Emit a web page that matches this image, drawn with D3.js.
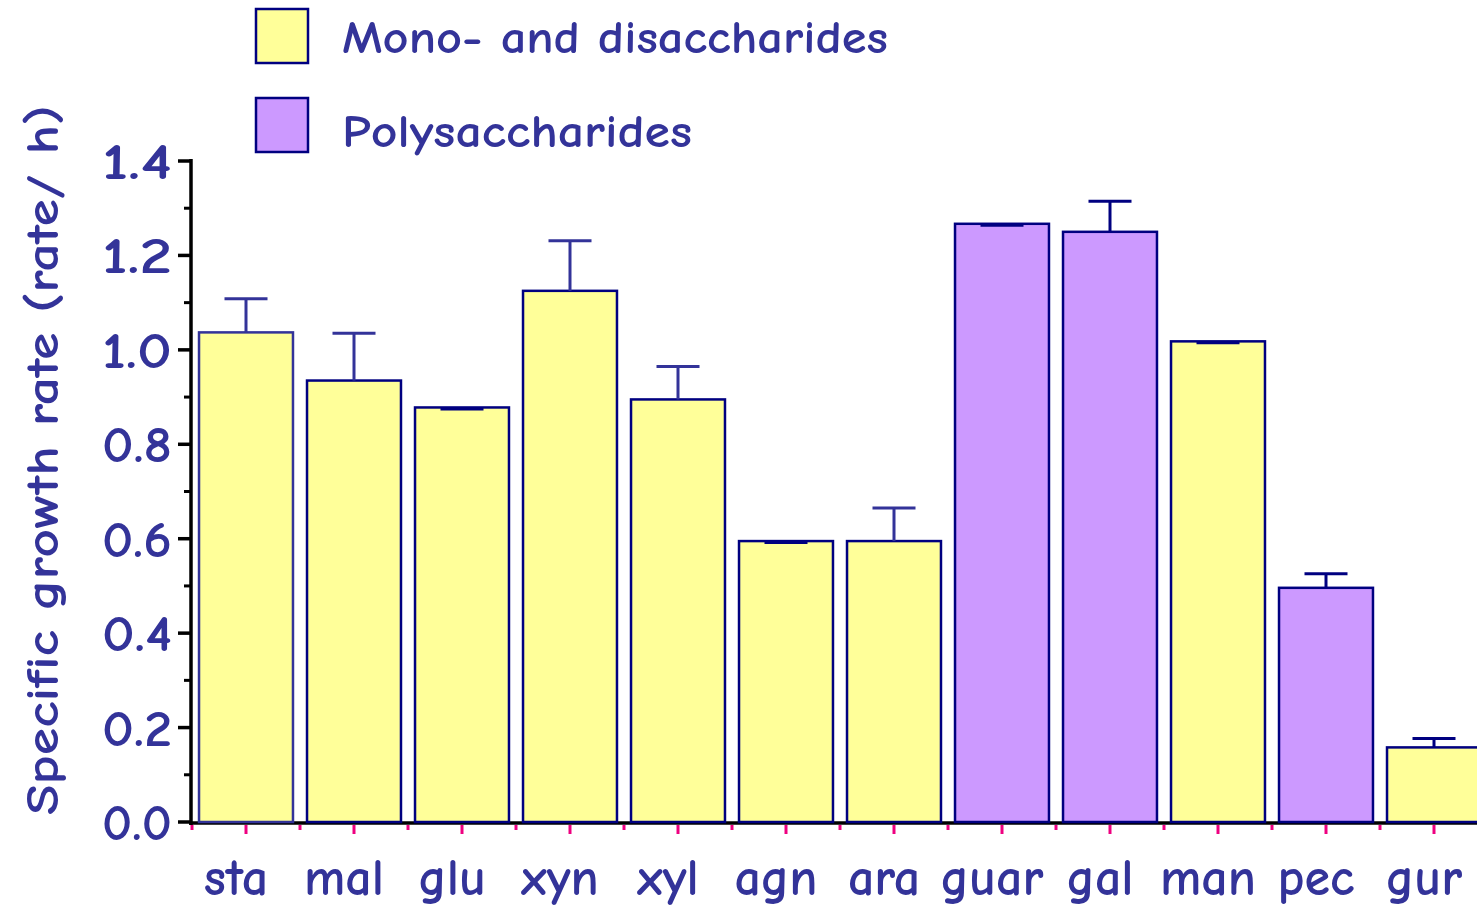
<!DOCTYPE html>
<html>
<head>
<meta charset="utf-8">
<script src="https://cdn.jsdelivr.net/npm/d3@7"></script>
<style>
  html, body { margin: 0; padding: 0; background: #fff; }
  svg { display: block; }
  text { font-family: "Comic Sans MS", "Comic Neue", "DejaVu Sans", sans-serif; fill: #333399; font-weight: bold; }
</style>
</head>
<body>
<div id="chart"></div>
<script>
// ── Data ────────────────────────────────────────────────────
const categories = ['sta', 'mal', 'glu', 'xyn', 'xyl', 'agn', 'ara', 'guar', 'gal', 'man', 'pec', 'gur'];
const growthRate = [1.037, 0.935, 0.878, 1.125, 0.895, 0.595, 0.595, 1.267, 1.250, 1.018, 0.496, 0.158];
const errorValue = [0.071, 0.100, 0.000, 0.106, 0.070, 0.000, 0.070, 0.000, 0.065, 0.000, 0.030, 0.019];
const groupOf    = ['mono', 'mono', 'mono', 'mono', 'mono', 'mono', 'mono', 'poly', 'poly', 'mono', 'poly', 'mono'];
const yTicks = [0, 0.2, 0.4, 0.6, 0.8, 1.0, 1.2, 1.4];
const legendItems = [
  { key: 'mono', label: 'Mono- and disaccharides' },
  { key: 'poly', label: 'Polysaccharides' }
];

const fills = { mono: '#ffff99', poly: '#cc99ff' };
const navy = '#000080';
const textBlue = '#333399';
const pink = '#ee0080';

const W = 1477, H = 910;
const x0 = 191, y0 = 822, yTop = 161;
const step = 108;

const svg = d3.select('#chart').append('svg')
  .attr('width', W).attr('height', H);

const x = d3.scaleBand()
  .domain(categories)
  .range([x0 + 1, x0 + 1 + step * categories.length])
  .paddingInner(0.13)
  .paddingOuter(0.065);

const y = d3.scaleLinear().domain([0, 1.4]).range([y0, yTop]);

const data = categories.map((c, i) => ({
  cat: c, v: growthRate[i], e: errorValue[i], g: groupOf[i]
}));

// stretch a text element horizontally to a target width
function fitWidth(sel, target) {
  sel.each(function () {
    const w = this.getComputedTextLength();
    if (w > 0) d3.select(this).attr('textLength', target).attr('lengthAdjust', 'spacingAndGlyphs');
  });
}

// ── X axis line (under the bars) ────────────────────────────
svg.append('line')
  .attr('x1', x0 - 2).attr('x2', W)
  .attr('y1', y0 + 1).attr('y2', y0 + 1)
  .attr('stroke', '#000').attr('stroke-width', 3.5);

// ── Bars ────────────────────────────────────────────────────
const bars = svg.append('g');
bars.selectAll('rect')
  .data(data).join('rect')
  .attr('x', d => x(d.cat))
  .attr('y', d => y(d.v))
  .attr('width', x.bandwidth())
  .attr('height', d => y0 - y(d.v))
  .attr('fill', d => fills[d.g])
  .attr('stroke', (d, i) => i === 0 ? textBlue : navy)
  .attr('stroke-width', 2.5);

// ── Error bars ──────────────────────────────────────────────
const lighter = ['sta', 'mal', 'xyn', 'xyl', 'ara'];
const errs = svg.append('g').attr('stroke-width', 3);
const cx = d => x(d.cat) + x.bandwidth() / 2;
errs.selectAll('.stem')
  .data(data.filter(d => d.e > 0)).join('line')
  .attr('x1', cx).attr('x2', cx)
  .attr('y1', d => y(d.v)).attr('y2', d => y(d.v + d.e))
  .attr('stroke', d => lighter.includes(d.cat) ? textBlue : navy);
errs.selectAll('.cap')
  .data(data).join('line')
  .attr('x1', d => cx(d) - 21.5).attr('x2', d => cx(d) + 21.5)
  .attr('y1', d => y(d.v + d.e) + (d.e > 0 ? 0 : 1.5))
  .attr('y2', d => y(d.v + d.e) + (d.e > 0 ? 0 : 1.5))
  .attr('stroke', d => d.e > 0 && lighter.includes(d.cat) ? textBlue : navy);

// ── X ticks & labels ────────────────────────────────────────
const pinkTicks = svg.append('g').attr('stroke', pink).attr('stroke-width', 3);
pinkTicks.selectAll('.ctr')
  .data(categories).join('line')
  .attr('x1', d => x(d) + x.bandwidth() / 2).attr('x2', d => x(d) + x.bandwidth() / 2)
  .attr('y1', y0 + 3).attr('y2', y0 + 12);
pinkTicks.selectAll('.bnd')
  .data(d3.range(categories.length + 1)).join('line')
  .attr('x1', i => x0 + 1 + i * step).attr('x2', i => x0 + 1 + i * step)
  .attr('y1', y0 + 3).attr('y2', y0 + 8);

svg.append('g').selectAll('text')
  .data(categories).join('text')
  .attr('x', d => x(d) + x.bandwidth() / 2 - 10)
  .attr('y', 895)
  .attr('text-anchor', 'middle')
  .attr('font-size', 52)
  .text(d => d);

// ── Y axis ──────────────────────────────────────────────────
const yAxis = svg.append('g');
yAxis.append('line')
  .attr('x1', x0).attr('x2', x0)
  .attr('y1', yTop - 2).attr('y2', y0 + 3)
  .attr('stroke', '#000').attr('stroke-width', 3.5);
yAxis.selectAll('.major')
  .data(yTicks).join('line')
  .attr('x1', x0 - 13).attr('x2', x0)
  .attr('y1', d => y(d)).attr('y2', d => y(d))
  .attr('stroke', '#000').attr('stroke-width', 3.5);
yAxis.selectAll('.minor')
  .data(yTicks.slice(0, -1).map(t => t + 0.1)).join('line')
  .attr('x1', x0 - 7).attr('x2', x0)
  .attr('y1', d => y(d)).attr('y2', d => y(d))
  .attr('stroke', '#000').attr('stroke-width', 3);
yAxis.selectAll('text')
  .data(yTicks).join('text')
  .attr('x', 172)
  .attr('y', d => y(d) + 18)
  .attr('text-anchor', 'end')
  .attr('font-size', 50)
  .text(d => d3.format('.1f')(d))
  .call(fitWidth, 70);

svg.append('text')
  .attr('transform', `translate(58,460) rotate(-90)`)
  .attr('text-anchor', 'middle')
  .attr('font-size', 46)
  .text('Specific growth rate (rate/ h)')
  .call(fitWidth, 710);

// ── Legend ──────────────────────────────────────────────────
const leg = svg.append('g').selectAll('g')
  .data(legendItems).join('g')
  .attr('transform', (d, i) => `translate(256,${9 + i * 89})`);
leg.append('rect')
  .attr('width', 52).attr('height', 54)
  .attr('fill', d => fills[d.key])
  .attr('stroke', navy).attr('stroke-width', 2.5);
leg.append('text')
  .attr('x', 86).attr('y', (d, i) => 44 + i * 5)
  .attr('font-size', 46)
  .text(d => d.label);
leg.filter(d => d.key === 'mono').select('text').call(fitWidth, 546);
leg.filter(d => d.key === 'poly').select('text').call(fitWidth, 350);
</script>
</body>
</html>
